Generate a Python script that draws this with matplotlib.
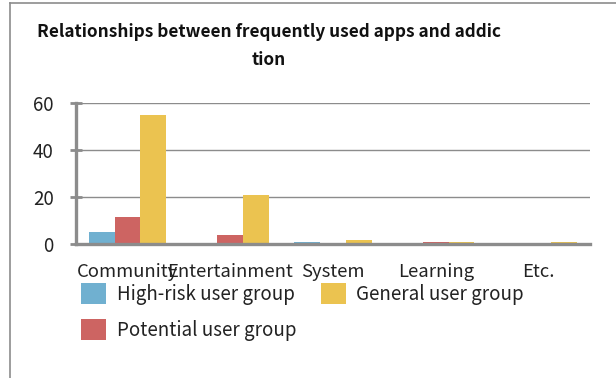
import matplotlib
matplotlib.use("Agg")
import matplotlib.pyplot as plt
import numpy as np
from matplotlib.lines import Line2D

categories = ["Community", "Entertainment", "System", "Learning", "Etc."]
high_risk = [5, 0, 1, 0, 0]
potential = [11.5, 4, 0, 1, 0]
general = [55, 21, 1.5, 0.7, 0.7]
series_names = ["High-risk user group", "Potential user group", "General user group"]
colors = ["#70B0D0", "#CD6462", "#EBC350"]
yticks = [0, 20, 40, 60]

plt.rcParams['font.family'] = ['Noto Sans CJK KR', 'DejaVu Sans']

W, H = 616, 378
fig = plt.figure(figsize=(W / 100, H / 100), dpi=100)

# outer border (left and top)
fig.add_artist(Line2D([10 / W, 10 / W], [0, 1 - 3 / H], transform=fig.transFigure,
                      color="#8c8c8c", lw=1.2))
fig.add_artist(Line2D([10 / W, 1], [1 - 3 / H, 1 - 3 / H], transform=fig.transFigure,
                      color="#8c8c8c", lw=1.2))

ax = fig.add_axes([76 / W, 1 - 244 / H, (590 - 76) / W, (244 - 103) / H])

x = np.arange(len(categories))
bw = 0.25
for i, (vals, name, c) in enumerate(zip([high_risk, potential, general], series_names, colors)):
    ax.bar(x + (i - 1) * bw, vals, width=bw, color=c, label=name, zorder=3)

ax.set_xlim(-0.5, len(categories) - 0.5)
ax.set_ylim(0, 60)
ax.set_yticks(yticks)
ax.set_xticks(x)
ax.set_xticklabels(categories, fontsize=13.3, color="#222222")
ax.tick_params(axis='x', length=0, pad=14)
ax.tick_params(axis='y', direction='inout', length=8, width=2, color="#8c8c8c",
               labelsize=13.5, labelcolor="#222222", pad=12)
ax.yaxis.grid(True, color="#8c8c8c", lw=1, zorder=0)
for s in ["top", "right"]:
    ax.spines[s].set_visible(False)
for s in ["left", "bottom"]:
    ax.spines[s].set_color("#8c8c8c")
    ax.spines[s].set_linewidth(2.4)
    ax.spines[s].set_zorder(4)

fig.text(269 / W, 1 - 32 / H, "Relationships between frequently used apps and addic",
         ha='center', va='center', fontsize=12.4, fontweight='bold', color="#111111")
fig.text(269 / W, 1 - 60 / H, "tion",
         ha='center', va='center', fontsize=12.4, fontweight='bold', color="#111111")

fig.legend(loc='upper left', bbox_to_anchor=(81 / W, 1 - 283 / H), ncol=2, frameon=False,
           fontsize=13.5, handlelength=1.35, handleheight=1.35, handletextpad=0.55,
           labelspacing=0.75, columnspacing=1.3, borderpad=0, borderaxespad=0,
           labelcolor="#222222")

fig.savefig("out.png", dpi=100)
